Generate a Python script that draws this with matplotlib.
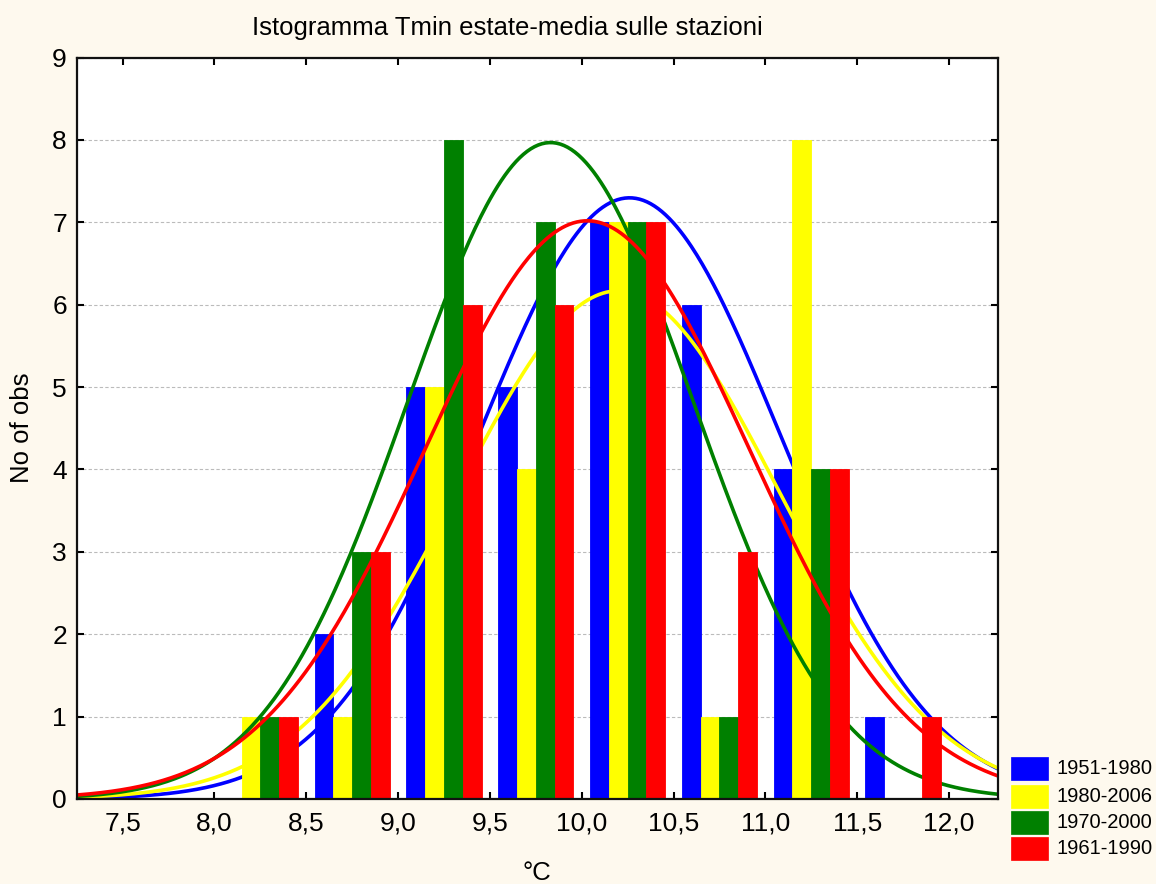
import numpy as np
import matplotlib
matplotlib.use("Agg")
import matplotlib.pyplot as plt
from matplotlib.patches import Rectangle

plt.rcParams['font.family'] = ['Liberation Sans', 'DejaVu Sans']

# ---- data ----
bin_starts = [7.5, 8.0, 8.5, 9.0, 9.5, 10.0, 10.5, 11.0, 11.5]
series_labels = ["1951-1980", "1980-2006", "1970-2000", "1961-1990"]
series_colors = ["#0000FF", "#FFFF00", "#008000", "#FF0000"]
counts_1951_1980 = [0, 0, 2, 5, 5, 7, 6, 4, 1]
counts_1980_2006 = [0, 1, 1, 5, 4, 7, 1, 8, 0]
counts_1970_2000 = [0, 1, 3, 8, 7, 7, 1, 4, 0]
counts_1961_1990 = [0, 1, 3, 6, 6, 7, 3, 4, 1]
all_counts = [counts_1951_1980, counts_1980_2006, counts_1970_2000, counts_1961_1990]
# fitted normal curve parameters
fit_means = [10.26, 10.20, 9.83, 10.03]
fit_sds = [0.820, 0.873, 0.776, 0.881]
xtick_vals = [7.5, 8.0, 8.5, 9.0, 9.5, 10.0, 10.5, 11.0, 11.5, 12.0]
xtick_labels = ["7,5", "8,0", "8,5", "9,0", "9,5", "10,0", "10,5", "11,0", "11,5", "12,0"]
ytick_vals = list(range(0, 10))

bin_w = 0.5
bar_w = 0.1025
xmin, xmax = 7.25, 12.265

W, H = 1156, 884
fig = plt.figure(figsize=(W / 100, H / 100), dpi=100)
bg = '#FEF9EE'
fig.patch.set_facecolor(bg)
ax = fig.add_axes([76.7 / W, 1 - 799 / H, (997.7 - 76.7) / W, (799 - 57.6) / H])
ax.set_facecolor('white')

centers = np.array(bin_starts) + bin_w / 2
xs = np.linspace(xmin, xmax, 500)
for i, (cnts, col, mu, sd) in enumerate(zip(all_counts, series_colors, fit_means, fit_sds)):
    pos = centers + (i - 1.5) * bar_w
    ax.bar(pos, cnts, width=bar_w, color=col, edgecolor=col, linewidth=0.6,
           zorder=2 + 2 * i)
    n = sum(cnts)
    ys = n * bin_w * np.exp(-0.5 * ((xs - mu) / sd) ** 2) / (sd * np.sqrt(2 * np.pi))
    ax.plot(xs, ys, color=col, lw=2.6, zorder=3 + 2 * i, solid_capstyle='butt')

ax.set_xlim(xmin, xmax)
ax.set_ylim(0, 9)
ax.set_xticks(xtick_vals)
ax.set_xticklabels(xtick_labels)
ax.set_yticks(ytick_vals)
ax.grid(axis='y', color='#BBBBBB', linestyle=(0, (3, 2)), linewidth=0.8, zorder=0.5)
ax.set_axisbelow(True)
ax.tick_params(axis='both', direction='in', length=5, width=1.5, labelsize=19,
               top=True, right=True, colors='black')
ax.tick_params(axis='x', pad=9)
ax.tick_params(axis='y', pad=7)
for s in ax.spines.values():
    s.set_linewidth(1.6)
    s.set_color('#111111')
    s.set_zorder(20)

fig.text(507 / W, 1 - 28 / H, "Istogramma Tmin estate-media sulle stazioni",
         ha='center', va='center', fontsize=18.5)
fig.text(22 / W, 1 - 428 / H, "No of obs", rotation=90, ha='center', va='center', fontsize=18.5)
fig.text(537 / W, 1 - 873 / H, "°C", ha='center', va='center', fontsize=18.5)

# legend
row_y = [768.3, 796, 822.7, 848.3]
for lab, col, yc in zip(series_labels, series_colors, row_y):
    fig.patches.append(Rectangle((1011 / W, 1 - (yc + 11.5) / H), 37 / W, 23 / H,
                                 transform=fig.transFigure, facecolor=col,
                                 edgecolor=col, linewidth=0.5))
    fig.text(1056 / W, 1 - yc / H, lab, ha='left', va='center', fontsize=14.5)

fig.savefig("out.png", dpi=100, facecolor=bg)
